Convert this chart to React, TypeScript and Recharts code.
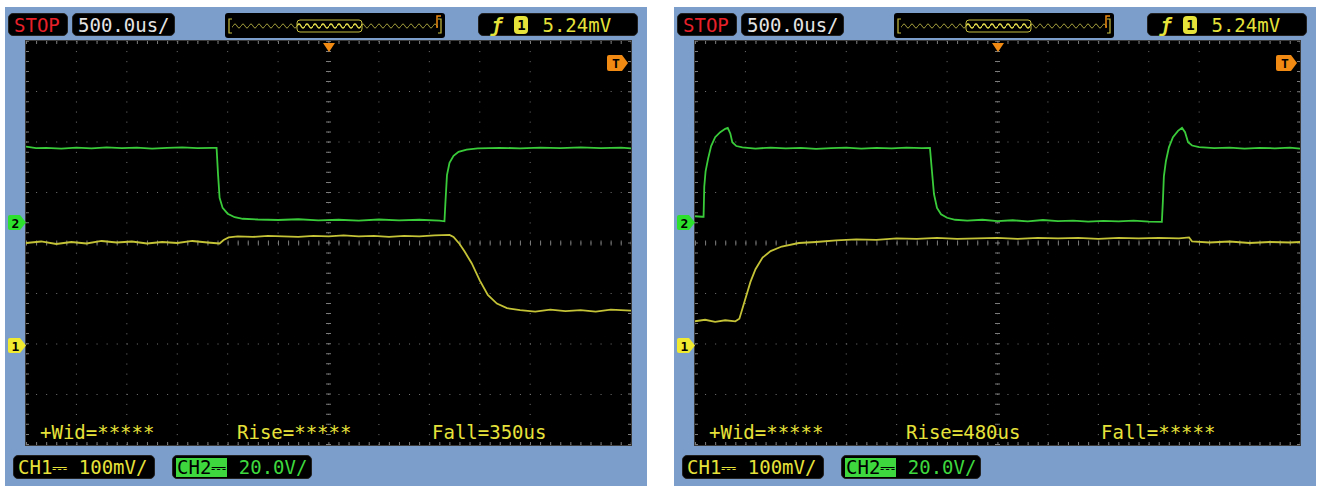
import React from 'react'
import { LineChart, Line, XAxis, YAxis, CartesianGrid, ReferenceLine } from 'recharts'

// 500us/div, 12 divisions across, 8 divisions high
const TIME_TICKS = [-3000, -2500, -2000, -1500, -1000, -500, 0, 500, 1000, 1500, 2000, 2500, 3000]
const DIV_TICKS = [-4, -3, -2, -1, 0, 1, 2, 3, 4]

// channel settings (scale per div, ground marker position in divs from centre)
const CH1_MV_PER_DIV = 100
const CH1_GROUND_DIV = -2.02
const CH2_V_PER_DIV = 20
const CH2_GROUND_DIV = 0.42

// left capture: [time us, CH2 volts]
const leftCh2: [number, number][] = [
  [-3000, 29.8], [-2900, 29.2], [-2800, 29.3], [-2650, 29.0], [-2500, 29.4], [-2350, 29.1],
  [-2200, 29.5], [-2050, 29.2], [-1900, 29.4], [-1750, 29.0], [-1600, 29.3], [-1450, 29.5],
  [-1300, 29.2], [-1150, 29.3], [-1110, 29.3], [-1095, 18.5], [-1080, 9.5], [-1050, 5.5],
  [-1000, 3.2], [-930, 1.8], [-850, 1.2], [-700, 0.9], [-500, 0.7], [-300, 1.0], [-100, 0.6],
  [100, 0.8], [300, 0.5], [500, 0.9], [700, 0.6], [900, 0.8], [1100, 0.5], [1150, 0.2],
  [1160, 8.0], [1175, 18.5], [1200, 23.4], [1240, 26.1], [1290, 27.7], [1370, 28.6],
  [1480, 29.1], [1700, 29.3], [1900, 29.1], [2100, 29.4], [2300, 29.2], [2500, 29.5],
  [2700, 29.2], [2900, 29.4], [3000, 29.1],
]

// left capture: [time us, CH1 millivolts]
const leftCh1: [number, number][] = [
  [-3000, 202], [-2850, 205], [-2700, 200], [-2550, 204], [-2400, 201], [-2250, 206],
  [-2100, 203], [-1950, 205], [-1800, 201], [-1650, 204], [-1500, 202], [-1350, 206],
  [-1200, 203], [-1080, 201], [-1040, 208], [-990, 213], [-900, 215], [-750, 214],
  [-600, 216], [-450, 215], [-300, 214], [-150, 216], [0, 215], [150, 217], [300, 215],
  [450, 216], [600, 214], [750, 216], [900, 215], [1050, 217], [1200, 218], [1240, 214],
  [1300, 200], [1350, 185], [1420, 162], [1500, 128], [1580, 99], [1670, 82], [1770, 73],
  [1900, 69], [2050, 66], [2200, 70], [2350, 67], [2500, 69], [2650, 66], [2800, 70], [3000, 68],
]

// right capture: [time us, CH2 volts]
const rightCh2: [number, number][] = [
  [-3000, 2.2], [-2930, 2.0], [-2915, 2.0], [-2908, 14], [-2895, 20], [-2870, 25], [-2840, 30],
  [-2800, 33.5], [-2750, 35.5], [-2700, 36.8], [-2675, 37.2], [-2650, 35], [-2630, 31.5],
  [-2590, 30.0], [-2530, 29.5], [-2400, 29.0], [-2250, 29.4], [-2100, 29.1], [-1950, 29.3],
  [-1800, 28.9], [-1650, 29.2], [-1500, 29.4], [-1350, 29.0], [-1200, 29.3], [-1050, 29.1],
  [-900, 29.4], [-750, 29.2], [-670, 29.3], [-650, 20], [-630, 11], [-600, 5.5], [-560, 3],
  [-500, 1.6], [-420, 0.8], [-300, 0.5], [-150, 0.8], [0, 0.3], [150, 0.6], [300, 0.2],
  [450, 0.7], [600, 0.3], [750, 0.5], [900, 0.1], [1050, 0.4], [1200, 0.2], [1350, 0.5],
  [1500, 0.1], [1630, 0.0], [1640, 8], [1650, 18], [1670, 24], [1700, 29.5], [1740, 33.5],
  [1790, 36], [1830, 37.2], [1860, 35.5], [1890, 31.5], [1930, 30.2], [2000, 29.6],
  [2150, 29.2], [2300, 29.4], [2450, 29.0], [2600, 29.3], [2750, 29.1], [2900, 29.4], [3000, 29.0],
]

// right capture: [time us, CH1 millivolts]
const rightCh1: [number, number][] = [
  [-3000, 47], [-2900, 50], [-2800, 46], [-2700, 49], [-2600, 47], [-2560, 52], [-2510, 85],
  [-2450, 125], [-2400, 150], [-2330, 173], [-2250, 186], [-2140, 195], [-1970, 202],
  [-1800, 204], [-1600, 207], [-1400, 209], [-1200, 208], [-1000, 211], [-800, 210],
  [-600, 212], [-400, 210], [-200, 211], [0, 212], [200, 210], [400, 212], [600, 211],
  [800, 212], [1000, 210], [1200, 212], [1400, 211], [1600, 212], [1800, 211], [1900, 213],
  [1930, 205], [2100, 203], [2300, 205], [2500, 202], [2700, 204], [2900, 203], [3000, 204],
]

const BLUE = '#7c9ecb'
const TEXT_YELLOW = '#e6e23a'
const TEXT_GREEN = '#3ed83e'
const TRACE_YELLOW = '#c4c236'
const TRACE_GREEN = '#3acb3a'
const ORANGE = '#f08a12'
const MONO = '"DejaVu Sans Mono", monospace'

const SCREEN_W = 605
const SCREEN_H = 404
const DOT_DASH = '1 9.08'

function toDivs(points: [number, number][], perDiv: number, groundDiv: number) {
  return points.map(([t, v]) => ({ t, div: v / perDiv + groundDiv }))
}

function Box({ x, y, w, h, children }: { x: number; y: number; w: number; h: number; children?: React.ReactNode }) {
  return (
    <div
      style={{
        position: 'absolute', left: x, top: y, width: w, height: h, background: '#000',
        borderRadius: 5, border: '1px solid #222', boxSizing: 'border-box',
        display: 'flex', alignItems: 'center', fontFamily: MONO, fontSize: 19, whiteSpace: 'pre',
      }}
    >
      {children}
    </div>
  )
}

function ChannelTag({ y, label, color }: { y: number; label: string; color: string }) {
  return (
    <svg style={{ position: 'absolute', left: 2, top: y - 8 }} width={20} height={17}>
      <path d="M3 1 H13 L19 8.5 L13 16 H3 Q1 16 1 14 V3 Q1 1 3 1 Z" fill={color} />
      <text x={8.5} y={13.5} textAnchor="middle" fontFamily={MONO} fontWeight="bold" fontSize={13} fill="#000">{label}</text>
    </svg>
  )
}

function Overview() {
  return (
    <svg style={{ position: 'absolute', left: 220, top: 6 }} width={220} height={25}>
      <defs>
        <pattern id="wave" width={8} height={25} patternUnits="userSpaceOnUse">
          <path d="M0 13 Q2 9 4 13 T8 13" fill="none" stroke="#a09a3a" strokeWidth={1} />
        </pattern>
        <pattern id="waveHi" width={8} height={25} patternUnits="userSpaceOnUse">
          <path d="M0 13 Q2 9 4 13 T8 13" fill="none" stroke="#e0d84a" strokeWidth={1.3} />
        </pattern>
      </defs>
      <rect x={0} y={0} width={220} height={25} rx={3} fill="#000" />
      <rect x={7} y={8} width={206} height={10} fill="url(#wave)" />
      <rect x={72} y={7} width={65} height={12} rx={3} fill="url(#waveHi)" stroke="#c8c040" strokeWidth={1} />
      <path d="M7 6 H4 V20 H7" fill="none" stroke="#c8c040" strokeWidth={1.2} />
      <path d="M213 6 H216 V20 H213" fill="none" stroke="#c8c040" strokeWidth={1.2} />
      <path d="M212 15 V3 H216" fill="none" stroke={ORANGE} strokeWidth={1.5} />
    </svg>
  )
}

function ScopePanel({ left, ch1, ch2, wid, rise, fall }: {
  left: number; ch1: [number, number][]; ch2: [number, number][]; wid: string; rise: string; fall: string
}) {
  const ch1Rows = toDivs(ch1, CH1_MV_PER_DIV, CH1_GROUND_DIV)
  const ch2Rows = toDivs(ch2, CH2_V_PER_DIV, CH2_GROUND_DIV)
  const measureStyle: React.CSSProperties = {
    position: 'absolute', top: 380, fontFamily: MONO, fontSize: 19, color: TEXT_YELLOW, whiteSpace: 'pre',
  }
  return (
    <div style={{ position: 'absolute', left, top: 7, width: 642, height: 479, background: BLUE }}>
      <Box x={3} y={6} w={60} h={23}><span style={{ color: '#e8202a', marginLeft: 5 }}>STOP</span></Box>
      <Box x={67} y={6} w={103} h={23}><span style={{ color: '#e4e4e4', marginLeft: 5 }}>500.0us/</span></Box>
      <Overview />
      <Box x={473} y={6} w={160} h={23}>
        <span style={{ color: TEXT_YELLOW, marginLeft: 12, fontStyle: 'italic', fontWeight: 'bold' }}>ƒ</span>
        <span style={{
          marginLeft: 12, background: TEXT_YELLOW, color: '#000', borderRadius: 4, width: 14, height: 18,
          fontSize: 14, fontWeight: 'bold', display: 'inline-flex', alignItems: 'center', justifyContent: 'center',
        }}>1</span>
        <span style={{ color: TEXT_YELLOW, marginLeft: 14 }}>5.24mV</span>
      </Box>

      <div style={{
        position: 'absolute', left: 21, top: 34, width: SCREEN_W, height: SCREEN_H, background: '#000',
        boxShadow: '0 0 0 1px #3a3a3a',
      }}>
        <LineChart width={SCREEN_W} height={SCREEN_H} margin={{ top: 0, right: 0, bottom: 0, left: 0 }}>
          <CartesianGrid stroke="#747474" strokeDasharray={DOT_DASH} />
          <XAxis type="number" dataKey="t" domain={[-3000, 3000]} ticks={TIME_TICKS} hide allowDataOverflow />
          <YAxis type="number" domain={[-4, 4]} ticks={DIV_TICKS} hide allowDataOverflow />
          <ReferenceLine x={0} stroke="#7a7a7a" strokeWidth={5} strokeDasharray={DOT_DASH} />
          <ReferenceLine y={0} stroke="#7a7a7a" strokeWidth={5} strokeDasharray={DOT_DASH} />
          <ReferenceLine y={4} stroke="#7a7a7a" strokeWidth={6} strokeDasharray={DOT_DASH} />
          <ReferenceLine y={-4} stroke="#7a7a7a" strokeWidth={6} strokeDasharray={DOT_DASH} />
          <ReferenceLine x={-3000} stroke="#7a7a7a" strokeWidth={6} strokeDasharray={DOT_DASH} />
          <ReferenceLine x={3000} stroke="#7a7a7a" strokeWidth={6} strokeDasharray={DOT_DASH} />
          <Line data={ch1Rows} dataKey="div" type="linear" dot={false} stroke={TRACE_YELLOW} strokeWidth={1.8} isAnimationActive={false} />
          <Line data={ch2Rows} dataKey="div" type="linear" dot={false} stroke={TRACE_GREEN} strokeWidth={1.8} isAnimationActive={false} />
        </LineChart>
        <svg style={{ position: 'absolute', left: 297, top: 2 }} width={12} height={9}>
          <path d="M0 0 H12 L6 9 Z" fill={ORANGE} />
        </svg>
        <svg style={{ position: 'absolute', left: 581, top: 14 }} width={22} height={16}>
          <path d="M2 0 H15 L21 8 L15 16 H2 Q0 16 0 14 V2 Q0 0 2 0 Z" fill={ORANGE} />
          <text x={9} y={13} textAnchor="middle" fontFamily={MONO} fontWeight="bold" fontSize={13} fill="#000">T</text>
        </svg>
        <span style={{ ...measureStyle, left: 14 }}>{wid}</span>
        <span style={{ ...measureStyle, left: 211 }}>{rise}</span>
        <span style={{ ...measureStyle, left: 406 }}>{fall}</span>
      </div>

      <ChannelTag y={215} label="2" color="#2ee02e" />
      <ChannelTag y={338} label="1" color="#f0ea30" />

      <Box x={8} y={448} w={142} h={24}>
        <span style={{ color: TEXT_YELLOW, marginLeft: 4 }}>CH1⎓ 100mV/</span>
      </Box>
      <Box x={167} y={448} w={140} h={24}>
        <span style={{ background: TEXT_GREEN, color: '#000', marginLeft: 3, padding: '0 1px', lineHeight: '19px' }}>CH2⎓</span>
        <span style={{ color: TEXT_GREEN }}> 20.0V/</span>
      </Box>
    </div>
  )
}

export default function App() {
  return (
    <div style={{ position: 'absolute', left: 0, top: 0, width: 1319, height: 486, background: '#fff', overflow: 'hidden' }}>
      <ScopePanel left={5} ch1={leftCh1} ch2={leftCh2} wid="+Wid=*****" rise="Rise=*****" fall="Fall=350us" />
      <ScopePanel left={674} ch1={rightCh1} ch2={rightCh2} wid="+Wid=*****" rise="Rise=480us" fall="Fall=*****" />
    </div>
  )
}
